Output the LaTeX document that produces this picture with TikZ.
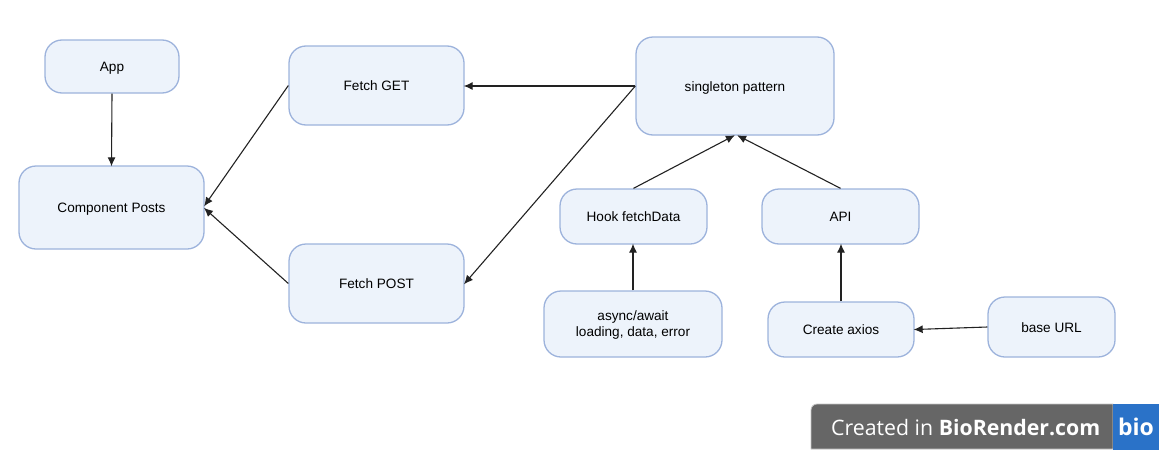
\documentclass[tikz,border=0pt]{standalone}
\usepackage{fontspec}
\setmainfont{Liberation Sans}
\newfontfamily\badgefont{Open Sans}
\usetikzlibrary{arrows.meta}
\tikzset{
  box/.style={draw=boxline,fill=boxfill,line width=1.3pt,rounded corners=17pt,align=center,inner sep=0pt,font=\fontsize{13.6}{16.5}\selectfont,text=black},
  oneline/.style={box,text height=10pt,text depth=0pt},
  conn/.style={draw=linecol,line width=1.1pt,shorten >=-1pt,-{Latex[length=9pt,width=8pt]}}
}
\definecolor{boxline}{HTML}{9DB3DC}
\definecolor{boxfill}{HTML}{EDF3FB}
\definecolor{linecol}{HTML}{222222}
\definecolor{badgegray}{HTML}{666666}
\definecolor{badgeblue}{HTML}{2A72C8}
\definecolor{badgeedge}{HTML}{C4C4C4}
\begin{document}
\begin{tikzpicture}[x=1pt,y=-1pt]
\useasboundingbox (0,0) rectangle (1159,450);
\node[oneline,minimum width=134pt,minimum height=53pt] (app) at (112,66.5) {App};
\node[oneline,minimum width=185pt,minimum height=83pt] (posts) at (111.5,207.5) {Component Posts};
\node[oneline,minimum width=175pt,minimum height=79pt] (get) at (376.5,85.5) {Fetch GET};
\node[oneline,minimum width=175pt,minimum height=79pt] (post) at (376.5,283.5) {Fetch POST};
\node[oneline,minimum width=198pt,minimum height=98pt] (single) at (735,86) {singleton pattern};
\node[oneline,minimum width=147pt,minimum height=55pt] (hook) at (633.5,216.5) {Hook fetchData};
\node[oneline,minimum width=157pt,minimum height=55pt] (api) at (840.5,216.5) {API};
\node[box,minimum width=178pt,minimum height=66pt] (async) at (633,324) {\rule{0pt}{12pt}async/await\\loading, data, error};
\node[oneline,minimum width=146pt,minimum height=55pt] (axios) at (841,329.5) {Create axios};
\node[oneline,minimum width=127pt,minimum height=60pt] (base) at (1051.5,327) {base URL};
\coordinate (postsA) at ([yshift=2pt]posts.east);
\coordinate (postsB) at ([yshift=-1pt]posts.east);
\coordinate (singleA) at ([xshift=-1pt]single.south);
\coordinate (singleB) at ([xshift=3pt]single.south);
\draw[conn] (app.south) -- (posts.north);
\draw[conn] (get.west) -- (postsA);
\draw[conn] (post.west) -- (postsB);
\draw[conn] (single.west) -- (single.west -| get.east);
\draw[conn] (single.west) -- (post.east);
\draw[conn] (hook.north) -- (singleA);
\draw[conn] (api.north) -- (singleB);
\draw[conn] (async.north) -- (async.north |- hook.south);
\draw[conn] (axios.north) -- (axios.north |- api.south);
\draw[conn] (base.west) -- (axios.east);
\path[fill=badgegray,draw=badgeedge,line width=0.8pt] (1113,404) [rounded corners=6pt] -- (811,404) [sharp corners] -- (811,449) -- (1113,449) -- cycle;
\node[fill=badgeblue,minimum width=46pt,minimum height=46pt,inner sep=0pt,font=\badgefont\bfseries\fontsize{23}{24}\selectfont,text=white] (bio) at (1136,427) {bio};
\node[anchor=west,inner sep=0pt,text=white,font=\badgefont\fontsize{21.3}{26}\selectfont] (made) at (831,428) {Created in \textbf{BioRender.com}};
\end{tikzpicture}
\end{document}
